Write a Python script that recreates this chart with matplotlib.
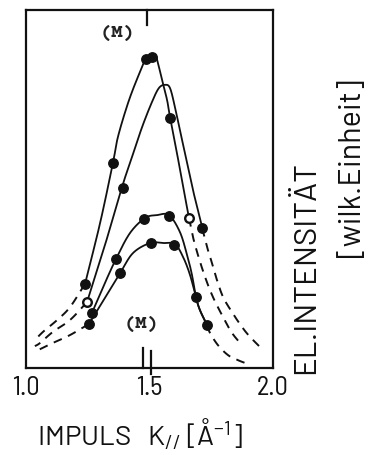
import numpy as np
import matplotlib
matplotlib.use("Agg")
import matplotlib.pyplot as plt
from matplotlib import font_manager

# ---- measured intensity curves (arbitrary units) vs. momentum K|| [1/Å] ----
# Curve A (highest, peak near 1.52)
a_line_x = [1.239, 1.300, 1.352, 1.372, 1.413, 1.453, 1.486, 1.522, 1.534, 1.551, 1.571, 1.583, 1.611, 1.636, 1.660]
a_line_y = [2.35, 4.05, 5.73, 6.45, 7.40, 8.13, 8.63, 8.74, 8.52, 8.04, 7.49, 7.01, 6.01, 5.06, 4.19]
a_dots_x = [1.239, 1.352, 1.486, 1.510, 1.583]
a_dots_y = [2.35, 5.73, 8.63, 8.69, 6.98]
a_open_x = [1.660]
a_open_y = [4.19]
a_left_x = [1.239, 1.178, 1.126, 1.069, 1.036]
a_left_y = [2.35, 1.70, 1.34, 1.01, 0.78]
a_right_x = [1.660, 1.676, 1.696, 1.725, 1.757, 1.798, 1.834, 1.874]
a_right_y = [4.19, 3.66, 3.16, 2.54, 1.98, 1.42, 0.98, 0.64]

# Curve B (peak near 1.56)
b_line_x = [1.247, 1.320, 1.389, 1.429, 1.470, 1.510, 1.538, 1.563, 1.583, 1.603, 1.623, 1.652, 1.676, 1.713]
b_line_y = [1.84, 3.44, 5.06, 5.89, 6.73, 7.43, 7.82, 7.91, 7.82, 7.29, 6.65, 5.73, 4.97, 3.94]
b_dots_x = [1.393, 1.713]
b_dots_y = [5.03, 3.91]
b_open_x = [1.247]
b_open_y = [1.84]
b_left_x = [1.247, 1.178, 1.109, 1.057, 1.036]
b_left_y = [1.84, 1.34, 1.01, 0.70, 0.61]
b_right_x = [1.713, 1.733, 1.753, 1.773, 1.798, 1.834, 1.874, 1.907, 1.960]
b_right_y = [3.91, 3.38, 2.93, 2.46, 1.98, 1.56, 1.15, 0.87, 0.50]

# Curve C (upper plateau)
c_line_x = [1.267, 1.316, 1.364, 1.421, 1.482, 1.530, 1.579, 1.623, 1.652, 1.672, 1.688, 1.704, 1.733]
c_line_y = [1.54, 2.32, 3.04, 3.77, 4.19, 4.27, 4.27, 3.80, 3.16, 2.60, 1.98, 1.62, 1.20]
c_dots_x = [1.267, 1.364, 1.478, 1.579, 1.688]
c_dots_y = [1.54, 3.04, 4.16, 4.25, 1.98]

# Curve D (lower plateau)
d_line_x = [1.255, 1.320, 1.381, 1.433, 1.502, 1.555, 1.603, 1.636, 1.664, 1.688, 1.704, 1.733]
d_line_y = [1.23, 1.96, 2.65, 3.21, 3.49, 3.49, 3.46, 3.10, 2.60, 1.98, 1.62, 1.20]
d_dots_x = [1.255, 1.381, 1.506, 1.599, 1.733]
d_dots_y = [1.23, 2.65, 3.49, 3.44, 1.20]
d_left_x = [1.255, 1.178, 1.109, 1.049]
d_left_y = [1.23, 0.92, 0.70, 0.50]
d_right_x = [1.733, 1.745, 1.777, 1.818, 1.858, 1.887]
d_right_y = [1.20, 0.98, 0.64, 0.36, 0.22, 0.14]

# (M) markers on the momentum axis
m_top = [1.488]
m_bottom = [1.475, 1.508]

x_ticks = [1.0, 1.5, 2.0]
x_ticklabels = ["1.0", "1.5", "2.0"]


def catmull_rom(xs, ys, n=24):
    p = np.column_stack([xs, ys]).astype(float)
    p = np.vstack([2 * p[0] - p[1], p, 2 * p[-1] - p[-2]])
    out = []
    t = np.linspace(0, 1, n)[:, None]
    for i in range(1, len(p) - 2):
        p0, p1, p2, p3 = p[i - 1], p[i], p[i + 1], p[i + 2]
        seg = 0.5 * (2 * p1 + (-p0 + p2) * t + (2 * p0 - 5 * p1 + 4 * p2 - p3) * t ** 2
                     + (-p0 + 3 * p1 - 3 * p2 + p3) * t ** 3)
        out.append(seg if i == 1 else seg[1:])
    s = np.vstack(out)
    return s[:, 0], s[:, 1]


def first_font(cands, default):
    names = {f.name for f in font_manager.fontManager.ttflist}
    for c in cands:
        if c in names:
            return c
    return default


tick_font = first_font(["Barlow Semi Condensed", "Barlow Condensed", "Roboto Condensed"], "Liberation Sans")
label_font = first_font(["Barlow", "Roboto"], "Liberation Sans")
mono_font = first_font(["Courier Prime"], "Liberation Mono")

plt.rcParams["font.family"] = [label_font, "DejaVu Sans"]
plt.rcParams["mathtext.fontset"] = "custom"
plt.rcParams["mathtext.rm"] = label_font
plt.rcParams["mathtext.it"] = label_font

fig = plt.figure(figsize=(3.67, 4.54), dpi=100)
ax = fig.add_axes([26 / 367, 1 - 368 / 454, 247 / 367, 358 / 454])
ax.set_xlim(1.0, 2.0)
ax.set_ylim(0, 10)

ink = "#111111"
lw = 1.3
dash = (0, (4.5, 3.5))

for lx, ly in [(a_line_x, a_line_y), (b_line_x, b_line_y), (c_line_x, c_line_y), (d_line_x, d_line_y)]:
    sx, sy = catmull_rom(lx, ly)
    ax.plot(sx, sy, color=ink, lw=lw, solid_capstyle="round", zorder=2)

for lx, ly in [(a_left_x, a_left_y), (a_right_x, a_right_y), (b_left_x, b_left_y),
               (b_right_x, b_right_y), (d_left_x, d_left_y), (d_right_x, d_right_y)]:
    sx, sy = catmull_rom(lx, ly)
    ax.plot(sx, sy, color=ink, lw=lw + 0.1, linestyle=dash, zorder=2)

for px, py in [(a_dots_x, a_dots_y), (b_dots_x, b_dots_y), (c_dots_x, c_dots_y), (d_dots_x, d_dots_y)]:
    ax.plot(px, py, "o", ms=6.8, mfc=ink, mec=ink, zorder=3)
for px, py in [(a_open_x, a_open_y), (b_open_x, b_open_y)]:
    ax.plot(px, py, "o", ms=6.2, mfc="white", mec=ink, mew=1.7, zorder=3)

# (M) marks: short ticks drawn in axes-fraction height
xt = ax.get_xaxis_transform()
for xm in m_top:
    ax.plot([xm, xm], [1.0, 0.958], color=ink, lw=1.6, transform=xt, clip_on=False)
ax.plot([m_bottom[0]] * 2, [0.0, 0.055], color=ink, lw=1.6, transform=xt, clip_on=False)
ax.plot([m_bottom[1]] * 2, [-0.017, 0.048], color=ink, lw=1.6, transform=xt, clip_on=False)

ax.text(1.372, 0.937, "(M)", transform=xt, family=mono_font, fontsize=13.5, weight="bold",
        ha="center", va="center", color="#222222")
ax.text(1.466, 0.122, "(M)", transform=xt, family=mono_font, fontsize=13.5, weight="bold",
        ha="center", va="center", color="#222222")

ax.set_yticks([])
ax.set_xticks(x_ticks)
ax.set_xticklabels(x_ticklabels, fontsize=19, color=ink, family=tick_font)
ax.tick_params(axis="x", length=0, pad=6)
for sp in ax.spines.values():
    sp.set_linewidth(1.6)
    sp.set_color(ink)

fig.text(140 / 367, 1 - 446 / 454, r"IMPULS   K$_{//}$ [Å$^{-1}$]", fontsize=20,
         ha="center", va="baseline", color=ink)
fig.text(306 / 367, 1 - 268 / 454, "EL.INTENSITÄT", fontsize=22.5, rotation=90,
         ha="center", va="center", color=ink)
fig.text(352 / 367, 1 - 168 / 454, "[wilk.Einheit]", fontsize=22, rotation=90,
         ha="center", va="center", color=ink)

fig.savefig("out.png", dpi=100)
